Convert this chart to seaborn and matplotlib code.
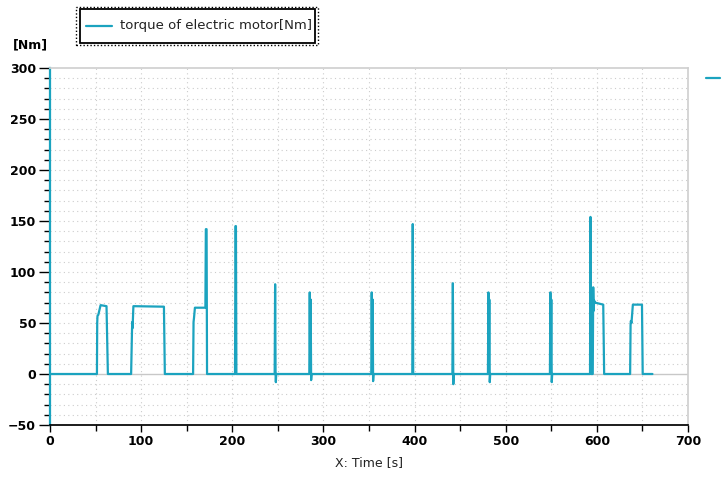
"""Torque of electric motor over a drive cycle"""

import matplotlib
matplotlib.use("Agg")
import matplotlib.pyplot as plt
from matplotlib.patches import Rectangle
from matplotlib.lines import Line2D
from matplotlib.ticker import MultipleLocator
import seaborn as sns
import pandas as pd

sns.set_theme(style="white")
plt.rcParams['font.family'] = ['DejaVu Sans']

TEAL = '#1ba3bf'

# Data
time_s = [0, 51.5, 51.8, 52.1, 53, 55.5, 62, 63.5,
          89, 90, 90.3, 90.6, 91.5, 125, 126,
          157, 157.5, 158, 159, 170.5, 171, 171.8, 172.3,
          203, 203.5, 204, 204.5,
          246.5, 247, 247.5, 247.8, 248.2,
          284.5, 285, 285.5, 286, 286.5, 287,
          352.5, 353, 353.5, 354, 354.5, 355,
          397.5, 398, 398.5,
          441.5, 442, 442.5, 443,
          480.5, 481, 481.5, 482, 482.5, 483,
          548.5, 549, 549.5, 550, 550.5, 551,
          592.5, 593, 593.7, 595.5, 596, 596.5, 597, 598, 607, 608,
          636.5, 637, 637.3, 638, 639.5, 649.5, 650.3, 661]
torque_nm = [0, 0, 50, 57, 58, 67.5, 66.5, 0,
             0, 44, 51, 45, 66.5, 66, 0,
             0, 51, 55, 65, 65, 142, 142, 0,
             0, 145, 145, 0,
             0, 88, 0, -8, 0,
             0, 80, 5, 73, -6, 0,
             0, 80, 5, 73, -7, 0,
             0, 147, 0,
             0, 89, -10, 0,
             0, 80, 5, 73, -8, 0,
             0, 80, 5, 73, -8, 0,
             0, 154, 0, 0, 85, 62, 72, 70, 68, 0,
             0, 48, 52, 50, 68, 68, 0, 0]

series_label = 'torque of electric motor[Nm]'
x_label = 'X: Time [s]'
y_unit = '[Nm]'

df = pd.DataFrame({'t': time_s, 'torque': torque_nm})

fig = plt.figure(figsize=(7.22, 4.79), dpi=100)
ax = fig.add_axes([50 / 722, 1 - 425 / 479, 638 / 722, 357 / 479])

sns.lineplot(data=df, x='t', y='torque', estimator=None, sort=False,
             color=TEAL, linewidth=1.6, ax=ax)

ax.set_xlim(0, 700)
ax.set_ylim(-50, 300)
ax.xaxis.set_major_locator(MultipleLocator(100))
ax.xaxis.set_minor_locator(MultipleLocator(50))
ax.yaxis.set_major_locator(MultipleLocator(50))
ax.yaxis.set_minor_locator(MultipleLocator(10))

# grid: dotted verticals every 50, dotted horizontals every 10
ax.grid(False)
for xv in range(50, 700, 50):
    ax.axvline(xv, color='#cccccc', linestyle=(0, (1, 3)), linewidth=0.8, zorder=0)
for yv in range(-40, 300, 10):
    if yv == 0:
        continue
    ax.axhline(yv, color='#cccccc', linestyle=(0, (1, 3)), linewidth=0.8, zorder=0)
ax.axhline(0, color='#c8c8c8', linewidth=1.0, zorder=0)

for side in ['top', 'right']:
    ax.spines[side].set_color('#d0d0d0')
ax.spines['bottom'].set_color('black')
ax.spines['left'].set_color(TEAL)
ax.spines['left'].set_linewidth(1.6)

ax.tick_params(axis='y', which='major', length=8, width=1, color='black', direction='out', left=True)
ax.tick_params(axis='y', which='minor', length=4, width=1, color='black', direction='out', left=True)
ax.tick_params(axis='x', which='major', length=5, width=1, color='black', direction='out', bottom=True)
ax.tick_params(axis='x', which='minor', length=4, width=1, color='black', direction='out', bottom=True)
ax.tick_params(labelsize=9, pad=2, labelcolor='black')
for lbl in ax.get_xticklabels() + ax.get_yticklabels():
    lbl.set_fontweight('bold')

ax.set_xlabel(x_label, fontsize=9, labelpad=6, color='#222222')
ax.set_ylabel('')
fig.text(30 / 722, 1 - 45 / 479, y_unit, fontsize=9, fontweight='bold',
         ha='center', va='center', color='black')

# legend box (dotted outer, solid inner)
fig.patches.append(Rectangle((76 / 722, 1 - 45 / 479), 242 / 722, 38 / 479,
                             transform=fig.transFigure, fill=False,
                             edgecolor='black', linestyle=(0, (1, 1.5)), linewidth=1))
fig.patches.append(Rectangle((80 / 722, 1 - 43 / 479), 235 / 722, 34 / 479,
                             transform=fig.transFigure, fill=False,
                             edgecolor='black', linewidth=1.3))
fig.lines.append(Line2D([86 / 722, 112 / 722], [1 - 26 / 479] * 2,
                        transform=fig.transFigure, color=TEAL, linewidth=1.6))
fig.text(120 / 722, 1 - 26 / 479, series_label, fontsize=9.5, va='center', ha='left',
         color='#222222')

# small teal marker at right edge
fig.lines.append(Line2D([706 / 722, 720 / 722], [1 - 78 / 479] * 2,
                        transform=fig.transFigure, color=TEAL, linewidth=1.6))

fig.savefig('out.png', dpi=100)
